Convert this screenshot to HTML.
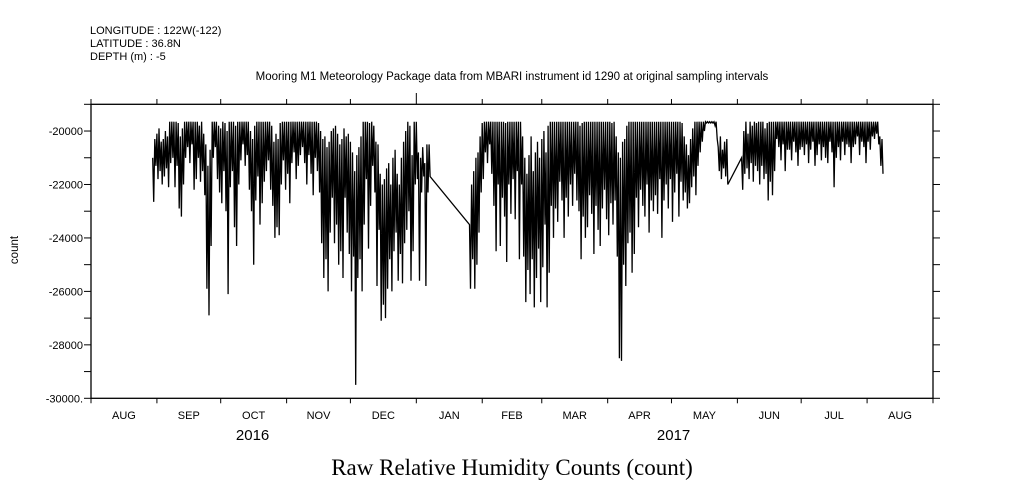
<!DOCTYPE html>
<html><head><meta charset="utf-8"><style>
html,body{margin:0;padding:0;background:#fff;}
svg{display:block;}
text{font-family:"Liberation Sans",sans-serif;fill:#000;}
</style></head><body>
<svg id="chart" width="1009" height="504" viewBox="0 0 1009 504" xmlns="http://www.w3.org/2000/svg">
<g font-size="11">
<text x="90" y="34">LONGITUDE : 122W(-122)</text>
<text x="90" y="47">LATITUDE : 36.8N</text>
<text x="90" y="60">DEPTH (m) : -5</text>
</g>
<text x="512" y="80" font-size="11.5" text-anchor="middle">Mooring M1 Meteorology Package data from MBARI instrument id 1290 at original sampling intervals</text>
<text transform="translate(18,250) rotate(-90)" font-size="11.5" text-anchor="middle">count</text>
<text x="512" y="475" font-size="23" text-anchor="middle" style="font-family:'Liberation Serif',serif">Raw Relative Humidity Counts (count)</text>
<g id="axes"></g>
<g id="series"></g>
</svg>
<script>
const yTicks = [-30000,-29000,-28000,-27000,-26000,-25000,-24000,-23000,-22000,-21000,-20000,-19000];
const yLabels = ["-30000.","","-28000","","-26000","","-24000","","-22000","","-20000",""];
const monthStarts = [0,31,61,92,122,153,184,212,243,273,304,334,365,396];
const monthLabels = ["AUG","SEP","OCT","NOV","DEC","JAN","FEB","MAR","APR","MAY","JUN","JUL","AUG"];
const yearLabels = ["2016","2017"];
const yearCenterDays = [76,274];
const startDays = [29,178,306];
const hi1 = [-21000,-20300,-20100,-19900,-20400,-20300,-20000,-20200,-19650,-19650,-19650,-19650,-19700,-20200,-19900,-19650,-19650,-19650,-19650,-19650,-19650,-19650,-19800,-19650,-20100,-20500,-21300,-20700,-19650,-19650,-19650,-19800,-19900,-19650,-19700,-20000,-19650,-19650,-19650,-19800,-19650,-19650,-19650,-19650,-19650,-19650,-20000,-20300,-19800,-19650,-19650,-19650,-19650,-19650,-19650,-19650,-19800,-20400,-20100,-20300,-19700,-19650,-19650,-19650,-19650,-19650,-19650,-19650,-19650,-19650,-19650,
-19650,-19650,-19650,-19650,-19650,-19650,
-19650,-19700,-20000,-20300,-20200,-20600,-20400,-20000,-19900,-19800,-20100,-20500,-20300,-19900,-20200,-20100,-20400,-20800,-21500,-20900,-20600,-20200,-19650,-19650,-19650,-19700,-19650,-19800,-20400,-20500,-21600,-22000,-21800,-21400,-21200,-22000,-21000,-20700,-21600,-22000,
-21000,-20400,-20000,-19650,-19800,-20900,-19650,-19650,-20800,-21000,-20600,-21200,-20500,-20500];
const lo1 = [-22650,-21300,-21800,-21500,-22000,-21700,-21400,-22100,-21200,-21000,-22100,-21300,-22900,-23200,-22000,-21000,-20600,-21200,-20500,-22200,-21800,-21000,-21900,-21500,-22400,-25900,-26900,-24300,-21000,-20600,-21800,-22300,-22700,-21500,-23000,-26100,-22100,-21500,-23600,-24300,-22000,-21100,-20500,-21300,-20900,-22200,-23000,-25000,-22600,-21700,-23500,-22700,-21900,-21500,-21100,-22200,-22800,-24000,-23600,-23900,-22000,-21100,-22200,-21600,-22700,-21200,-20800,-21800,-21300,-20900,-20600,
-21200,-22000,-20900,-21600,-22400,-21000,
-21500,-22300,-24200,-25500,-24800,-26000,-23800,-22500,-24200,-23500,-25000,-24500,-25500,-22500,-23800,-24600,-26000,-24700,-29500,-25500,-24800,-26000,-23500,-21800,-24400,-22800,-21300,-22300,-25800,-23700,-27100,-26500,-27000,-25900,-24800,-26000,-24500,-23800,-25600,-24600,
-25700,-24200,-23700,-23000,-25600,-24500,-22000,-21800,-25600,-22300,-21700,-25800,-22300,-21700];
const hi2 = [-23500,-22000,-21500,-21000,-20800,-20200,-19700,-19650,-19650,-19650,-19650,-19650,-19650,-19650,-19650,-19650,-19650,-19700,-19650,-19650,-19650,-19650,-19650,-19650,-19650,-20200,-21000,-21600,-20900,-20200,-21500,-20800,-20400,-21000,-20300,-20000,-20800,-19800,-19650,-19650,-19650,-19650,-19650,-19650,-19650,-19650,-19650,-19650,-19650,-19650,-19650,-19650,-19800,-19700,-19650,-19650,-19650,-19650,-19650,-19650,-19650,-19650,-19650,-19650,-19650,-19650,-19650,-19700,-19650,-20200,-20800,-21000,-20400,-20300,-19800,-19650,-19650,-19650,-19650,-19650,-19650,-19650,-19650,-19650,-19650,-19650,-19650,-19650,-19650,-19650,-19650,-19650,-19650,-19650,-19650,-19650,-19650,-19650,-19650,-19650,-19700,-20200,-20500,-20900,-20300,-19900,-19650,-19650,-19650,-19650,-19650,-19650,-19650,-19650,-19650,-19650,-19650,-20600,-20200,-20700,-20400,-20300];
const lo2 = [-25900,-24800,-25900,-25000,-23800,-22300,-21800,-20800,-21200,-20500,-21600,-22800,-24500,-22000,-24300,-22500,-23200,-24900,-22000,-23100,-21800,-23300,-21500,-24800,-22000,-24700,-26400,-25200,-26100,-24800,-26600,-25500,-24400,-26400,-25100,-23500,-26600,-25300,-22800,-24000,-22900,-23400,-21900,-22600,-24000,-22500,-23200,-22000,-22800,-21600,-22600,-23000,-24800,-23200,-24000,-23600,-22400,-23100,-24600,-22800,-23700,-24300,-22900,-22200,-23300,-23900,-22700,-23500,-22600,-24700,-28500,-28600,-25000,-25800,-24200,-23800,-25300,-24600,-22500,-23600,-22200,-22800,-23200,-22000,-23800,-22600,-23000,-22400,-23100,-21800,-24000,-22600,-22000,-22900,-21800,-23400,-22300,-21600,-23200,-21900,-22600,-22300,-22900,-22700,-22100,-21700,-22400,-21300,-20800,-20400,-20000,-19700,-19700,-19700,-19700,-19800,-20300,-21500,-21800,-21400,-21700,-22000,-21800];
const hi3 = [-21000,-20000,-19650,-20100,-19650,-19800,-19650,-19700,-19650,-19650,-19650,-19900,-19700,-19650,-19650,-19650,-19650,-19650,-19650,-19650,-19650,-19650,-19650,-19650,-19650,-19650,-19650,-19650,-19650,-19650,-19650,-19650,-19650,-19650,-19650,-19650,-19650,-19650,-19650,-19650,-19650,-19650,-19650,-19650,-19650,-19650,-19650,-19650,-19650,-19650,-19650,-19650,-19650,-19650,-19650,-19650,-19650,-19650,-19650,-19650,-19650,-19650,-19650,-19650,-19650,-20200,-20300];
const lo3 = [-22200,-21600,-21400,-21800,-21200,-21900,-21300,-21500,-22000,-21300,-21800,-21600,-22600,-21900,-22400,-21500,-20300,-20600,-21100,-20500,-21500,-20700,-20700,-21100,-20400,-20800,-21300,-20700,-20600,-20900,-20500,-21200,-20700,-20400,-21300,-20900,-20500,-21100,-20600,-21000,-21200,-20400,-20800,-22100,-21000,-20600,-21100,-20400,-20900,-20500,-20600,-21200,-20600,-20500,-20200,-20900,-20400,-20600,-21200,-20400,-20700,-20200,-20300,-20100,-20500,-21300,-21600,-20600];

const X0=91, X1=933, Y0=104.3, Y1=398.3, DMAX=396, VMIN=-30000, VMAX=-19000;
const xs = d => X0 + d/DMAX*(X1-X0);
const ys = v => Y1 - (v-VMIN)/(VMAX-VMIN)*(Y1-Y0);
const NS="http://www.w3.org/2000/svg";
const axes=document.getElementById('axes'), series=document.getElementById('series');
function mk(tag, attrs, parent){const e=document.createElementNS(NS,tag);for(const k in attrs)e.setAttribute(k,attrs[k]);parent.appendChild(e);return e;}

const frame=mk('rect',{x:X0,y:Y0,width:X1-X0,height:Y1-Y0,fill:'none',stroke:'#000','stroke-width':1.3},axes);



yTicks.forEach((v,i)=>{
  const y=ys(v);
  const t1=mk('line',{x1:X0-7,x2:X0,y1:y,y2:y,stroke:'#000'},axes);
  
  
  const t2=mk('line',{x1:X1,x2:X1+7,y1:y,y2:y,stroke:'#000'},axes);
  
  
  if(yLabels[i]){
    const tx=mk('text',{x:X0-8,y:y+4,'font-size':11,'text-anchor':'end'},axes);
    tx.textContent=yLabels[i];
    
    
  }
});
monthStarts.forEach((d,i)=>{
  const x=xs(d);
  const top=(d===153)?93:99;
  const t1=mk('line',{x1:x,x2:x,y1:top,y2:Y0,stroke:'#000'},axes);
  
  
  const t2=mk('line',{x1:x,x2:x,y1:Y1,y2:Y1+5,stroke:'#000'},axes);
  
  
  if(i<monthLabels.length){
    const tx=mk('text',{x:(x+xs(monthStarts[i+1]))/2,y:419,'font-size':11,'text-anchor':'middle'},axes);
    tx.textContent=monthLabels[i];
    
    
  }
});
yearLabels.forEach((yl,i)=>{
  const tx=mk('text',{x:xs(yearCenterDays[i]),y:440,'font-size':15,'text-anchor':'middle'},axes);
  tx.textContent=yl;
  
  
});

const segs=[[hi1,lo1],[hi2,lo2],[hi3,lo3]];
let pts=[];
segs.forEach((s,si)=>{
  const hi=s[0], lo=s[1];
  for(let i=0;i<hi.length;i++){
    const x=xs(startDays[si]+i);
    const x2=xs(startDays[si]+i+0.5);
    pts.push(x.toFixed(1)+','+ys(hi[i]).toFixed(1));
    pts.push(x2.toFixed(1)+','+ys(lo[i]).toFixed(1));
  }
});
const line=mk('polyline',{points:pts.join(' '),fill:'none',stroke:'#000','stroke-width':1.3,'stroke-linejoin':'miter'},series);


</script>
</body></html>
